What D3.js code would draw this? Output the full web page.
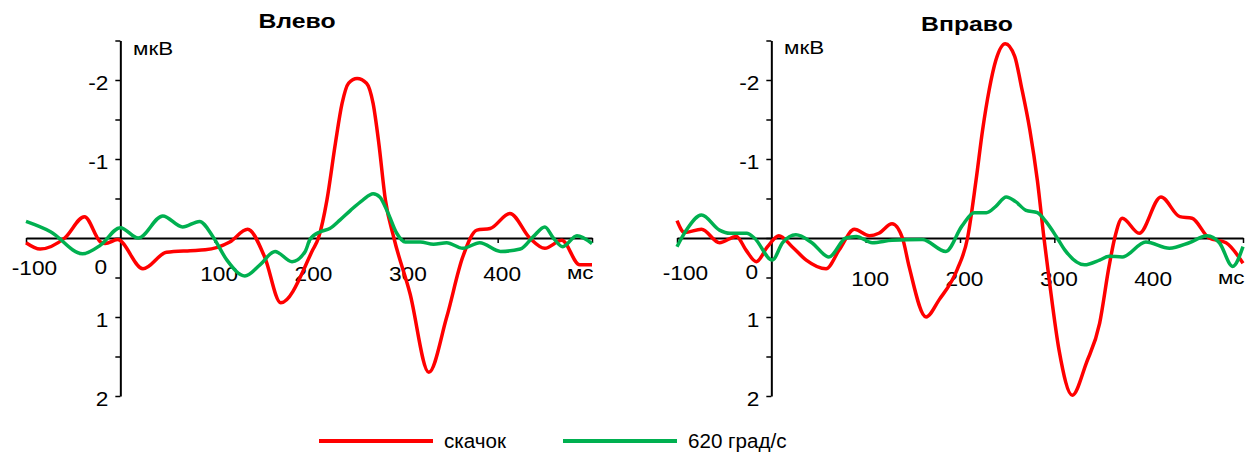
<!DOCTYPE html>
<html>
<head>
<meta charset="utf-8">
<script src="https://cdn.jsdelivr.net/npm/d3@7"></script>
<style>
  body { margin: 0; background: #fff; }
  text { font-family: "Liberation Sans", Arial, sans-serif; fill: #000; }
</style>
</head>
<body>
<div id="chart"></div>
<script>
// Данные (мс / мкВ)
var seriesNames = ["скачок", "620 град/с"];
var panelTitles = ["Влево", "Вправо"];
var xTicks = [-100, 0, 100, 200, 300, 400, 500];
var yTicks = [-2.5, -2, -1.5, -1, -0.5, 0, 0.5, 1, 1.5, 2];

// Влево, скачок
var leftRedT = [-100, -85, -59, -38, -21, -16, -3, 24, 49, 74, 90, 116, 135, 153, 170, 204, 210, 219, 228, 235, 242, 251, 261, 268, 274, 281, 290, 307, 327, 346, 363, 378, 392, 413, 434, 450, 468, 487, 500];
var leftRedV = [0.06, 0.14, 0.0, -0.27, 0.05, 0.07, 0.02, 0.39, 0.18, 0.16, 0.15, 0.05, -0.11, 0.24, 0.82, 0.15, 0.0, -0.48, -1.2, -1.70, -1.96, -2.02, -1.96, -1.70, -1.20, -0.48, 0.0, 0.70, 1.70, 1.0, 0.24, -0.10, -0.12, -0.31, 0.0, 0.13, 0.03, 0.34, 0.34];
// Влево, 620 град/с
var leftGreenT = [-100, -74, -40, -21, 0, 19, 45, 66, 84, 98, 113, 132, 148, 164, 182, 196, 201, 212, 222, 233, 244, 257, 268, 275, 284, 293, 302, 318, 332, 346, 363, 381, 403, 424, 438, 450, 459, 469, 484, 500];
var leftGreenV = [-0.21, -0.08, 0.20, 0.09, -0.13, 0.0, -0.28, -0.14, -0.21, -0.02, 0.28, 0.48, 0.34, 0.17, 0.30, 0.17, 0.02, -0.08, -0.12, -0.23, -0.35, -0.48, -0.56, -0.52, -0.31, -0.06, 0.05, 0.05, 0.08, 0.06, 0.13, 0.06, 0.17, 0.14, -0.02, -0.14, 0.0, 0.11, -0.03, 0.07];
// Вправо, скачок
var rightRedT = [-100, -92, -74, -55, -37, -27, -16, -4, 8, 22, 37, 58, 72, 88, 104, 114, 128, 139, 146, 164, 178, 197, 208, 217, 224, 231, 238, 248, 258, 265, 274, 282, 289, 295, 305, 319, 334, 348, 358, 364, 372, 390, 413, 433, 446, 464, 482, 500];
var rightRedV = [-0.22, -0.07, -0.11, 0.06, -0.02, 0.15, 0.30, 0.11, -0.03, 0.11, 0.28, 0.39, 0.15, -0.11, -0.03, -0.06, -0.18, 0.0, 0.36, 1.0, 0.78, 0.40, 0.0, -0.73, -1.37, -1.88, -2.25, -2.46, -2.30, -1.92, -1.37, -0.73, 0.0, 0.57, 1.42, 1.99, 1.58, 1.08, 0.36, 0.0, -0.25, -0.06, -0.52, -0.27, -0.25, 0.0, 0.06, 0.32];
// Вправо, 620 град/с
var rightGreenT = [-100, -90, -74, -55, -44, -26, -18, 1, 12, 26, 43, 61, 79, 90, 107, 128, 160, 185, 202, 215, 228, 238, 249, 259, 270, 282, 291, 302, 311, 332, 348, 358, 372, 397, 422, 443, 462, 475, 489, 500];
var rightGreenV = [0.11, -0.1, -0.29, -0.1, -0.06, -0.06, 0.0, 0.28, 0.06, -0.04, 0.06, 0.24, 0.0, -0.02, 0.06, 0.03, 0.02, 0.17, -0.15, -0.32, -0.32, -0.40, -0.52, -0.46, -0.35, -0.32, -0.21, -0.02, 0.15, 0.34, 0.28, 0.23, 0.24, 0.05, 0.13, 0.06, -0.03, 0.06, 0.36, 0.11];

var colors = ["#ff0000", "#00b050"];

var svg = d3.select("#chart").append("svg")
    .attr("width", 1256)
    .attr("height", 455);

// текст, слегка растянутый по горизонтали, как на исходнике
function stretchText(g, x, y, txt, anchor, size, bold, sx) {
  return g.append("text")
    .attr("transform", `translate(${x},${y}) scale(${sx},1)`)
    .attr("text-anchor", anchor)
    .style("font-size", size + "px")
    .style("font-weight", bold ? "bold" : "normal")
    .text(txt);
}

var panels = [
  { title: panelTitles[0], x0: 26, x1: 592, titleX: 297, titleY: 28, unitX: 133, unitY: 55, lblShift: 0,
    series: [[leftRedT, leftRedV], [leftGreenT, leftGreenV]] },
  { title: panelTitles[1], x0: 677, x1: 1243, titleX: 967, titleY: 31, unitX: 784, unitY: 54, lblShift: 5,
    series: [[rightRedT, rightRedV], [rightGreenT, rightGreenV]] }
];

panels.forEach(function(p) {
  var x = d3.scaleLinear().domain([-100, 500]).range([p.x0, p.x1]);
  var y = d3.scaleLinear().domain([-2.5, 2]).range([40.5, 396]);
  var g = svg.append("g");

  // Ось X
  var xa = g.append("g")
    .attr("transform", `translate(0,${y(0)})`)
    .call(d3.axisBottom(x).tickValues(xTicks).tickSize(5).tickSizeOuter(0)
      .tickFormat(d => d === 500 ? "мс" : String(d)));
  xa.select(".domain").attr("stroke-width", 2);
  xa.selectAll(".tick line").attr("stroke-width", 1.5);
  xa.selectAll("text")
    .attr("y", null).attr("dy", null)
    .attr("fill", "#000")
    .style("font-size", d => d === 500 ? "19px" : "21px")
    .attr("text-anchor", d => d === 500 ? "end" : "middle")
    .attr("transform", function(d) {
      var dx = 4, dy = 43 + p.lblShift, sx = 1.08;
      if (d === -100) { dx = 8; dy -= 6; }
      if (d === 0) { dx = -20; dy -= 7; }
      if (d === 500) { dx = 1; dy -= 2; sx = 1.18; }
      return `translate(${dx},${dy}) scale(${sx},1)`;
    });

  // Ось Y
  var ya = g.append("g")
    .attr("transform", `translate(${x(0)},0)`)
    .call(d3.axisLeft(y).tickValues(yTicks).tickSize(5).tickSizeOuter(0)
      .tickFormat(d => (Number.isInteger(d) && d !== 0) ? String(d) : ""));
  ya.select(".domain").attr("stroke-width", 2);
  ya.selectAll(".tick line").attr("stroke-width", 1.5);
  ya.selectAll("text")
    .attr("x", null).attr("dy", null)
    .attr("fill", "#000")
    .style("font-size", "21px")
    .attr("text-anchor", "end")
    .attr("transform", "translate(-12,9) scale(1.08,1)");

  stretchText(g, p.unitX, p.unitY, "мкВ", "start", 19, false, 1.18);
  stretchText(g, p.titleX, p.titleY, p.title, "middle", 21, true, 1.18);

  // Кривые
  var line = d3.line()
    .x(d => x(d[0]))
    .y(d => y(d[1]))
    .curve(d3.curveMonotoneX);

  p.series.forEach(function(s, i) {
    var pts = s[0].map((t, k) => [t, s[1][k]]);
    g.append("path")
      .datum(pts)
      .attr("fill", "none")
      .attr("stroke", colors[i])
      .attr("stroke-width", 3.5)
      .attr("stroke-linejoin", "round")
      .attr("d", line);
  });
});

// Легенда
var legend = svg.append("g");
var legendX = [319, 563];
seriesNames.forEach(function(name, i) {
  legend.append("line")
    .attr("x1", legendX[i]).attr("x2", legendX[i] + 114)
    .attr("y1", 441).attr("y2", 441)
    .attr("stroke", colors[i])
    .attr("stroke-width", 4);
  stretchText(legend, legendX[i] + 125, 448, name, "start", 20, false, 1.03);
});
</script>
</body>
</html>
